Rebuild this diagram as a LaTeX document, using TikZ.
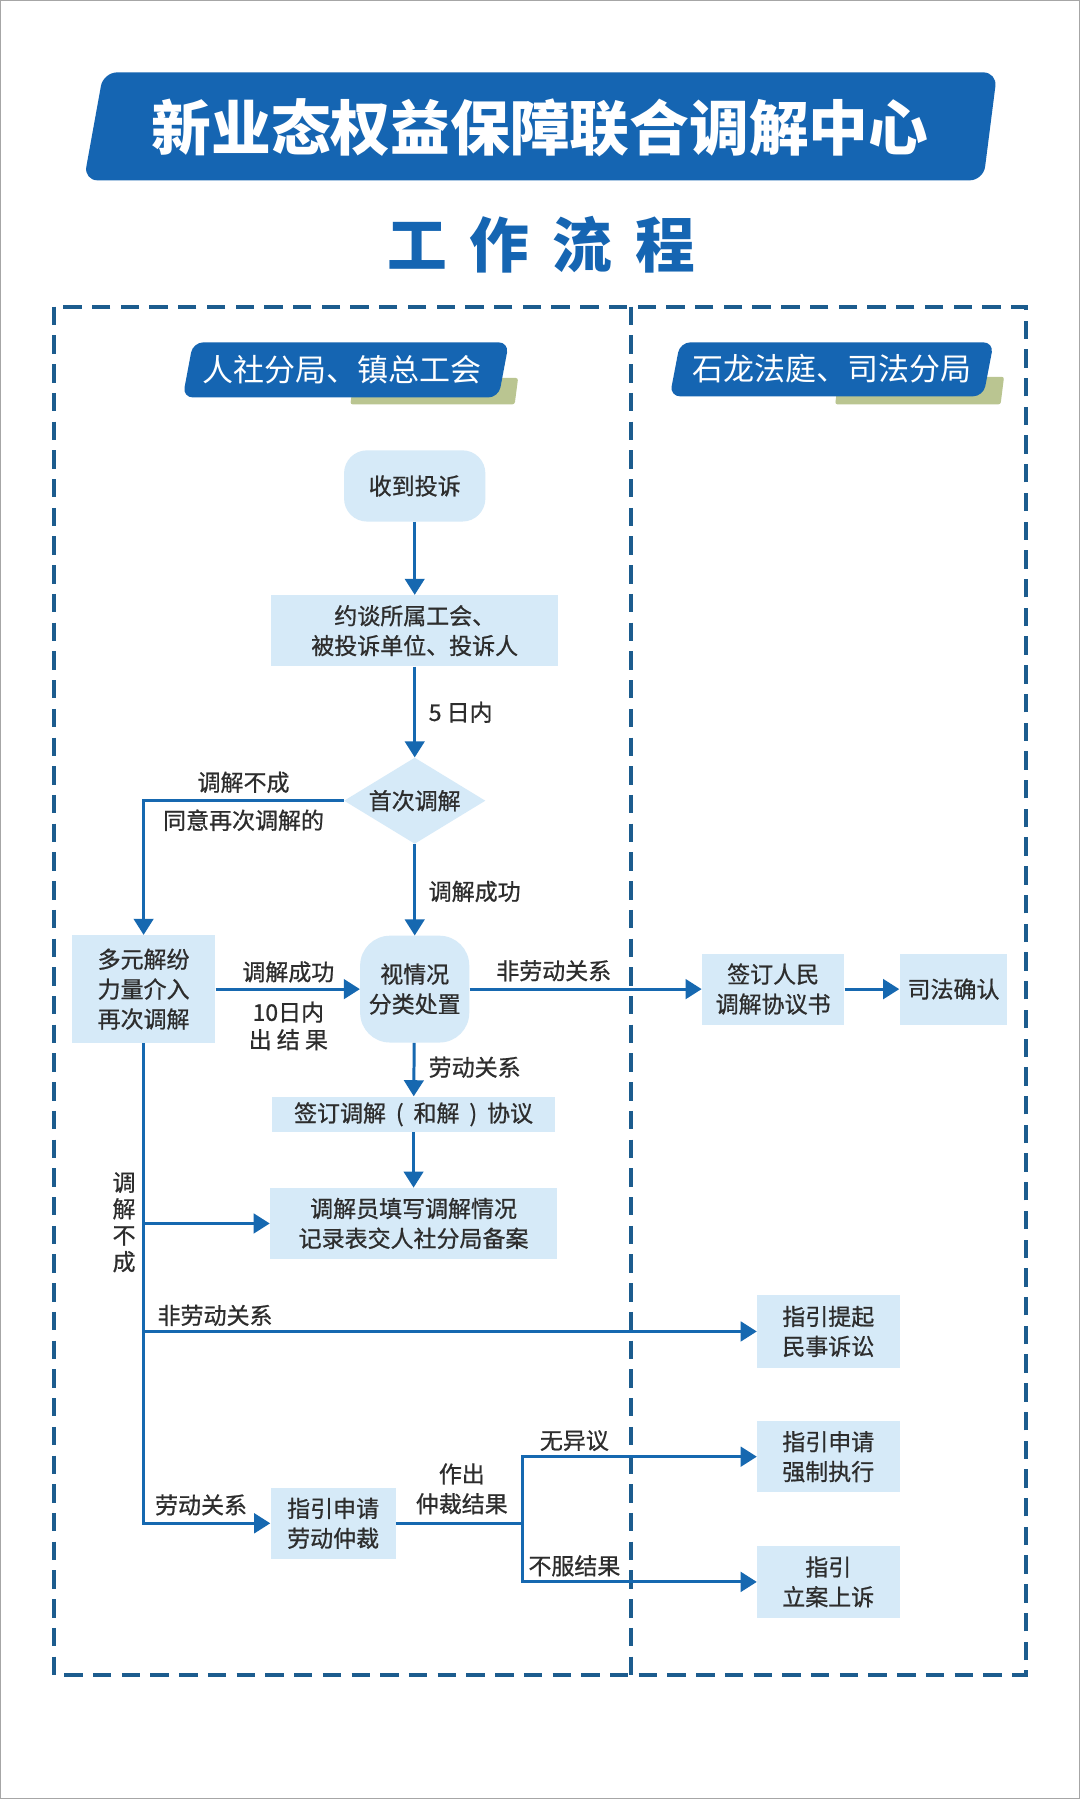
\documentclass[tikz,border=0pt]{standalone}
\usepackage{fontspec}
\setmainfont{Noto Sans CJK SC}
\newfontfamily\medfont{Noto Sans CJK SC}[FakeBold=0.8]
\usetikzlibrary{shapes.geometric,arrows.meta}
\definecolor{lineblue}{RGB}{22,104,176}
\definecolor{dashblue}{RGB}{28,92,142}
\definecolor{bannerblue}{RGB}{21,101,178}
\definecolor{boxfill}{RGB}{214,234,248}
\definecolor{sage}{RGB}{186,197,145}
\definecolor{txt}{RGB}{45,45,45}
\begin{document}
\begin{tikzpicture}[x=1pt,y=-1pt,
  box/.style={fill=boxfill, draw=none, text=txt, font=\medfont\fontsize{20}{26}\selectfont, align=center, inner sep=0pt},
  conn/.style={draw=lineblue, line width=2.6pt},
  arr/.style={conn, -{Triangle[length=14pt,width=17pt]}},
  lbl/.style={text=txt, font=\medfont\fontsize{20}{26}\selectfont, inner sep=0pt, align=center},
  dashline/.style={dashblue, line width=3.5pt, dash pattern=on 16pt off 9pt},
  hdrtext/.style={text=white, font=\fontsize{27}{27}\selectfont, inner sep=0pt},
]
\useasboundingbox (0,0) rectangle (940,1566);
\fill[white] (0,0) rectangle (940,1566);
\draw[gray!70, line width=1pt] (0.5,0.5) rectangle (939.5,1565.5);

% title banner
\fill[bannerblue, rounded corners=12pt] (90,63) -- (868,63) -- (856,157) -- (73,157) -- cycle;
\node[text=white, font=\fontsize{52}{52}\selectfont\bfseries, inner sep=0pt] (title) at (470,111) {新业态权益保障联合调解中心};
\node[text=bannerblue, font=\fontsize{52}{52}\selectfont\bfseries, inner sep=0pt] (subtitle) at (471,213) {工\hspace{20pt}作\hspace{20pt}流\hspace{20pt}程};

% dashed frame
\draw[dashline] (47,267) rectangle (893,1458);
\draw[dashline] (549,267) -- (549,1458);

% section headers
\fill[sage, rounded corners=2pt] (308,329) -- (451,329) -- (448,352) -- (305,352) -- cycle;
\fill[bannerblue, rounded corners=9pt] (168,298) -- (443,298) -- (434,346) -- (159,346) -- cycle;
\node[hdrtext] (hdrL) at (298,322) {人社分局、镇总工会};
\fill[sage, rounded corners=2pt] (730,328) -- (874,328) -- (871,352) -- (727,352) -- cycle;
\fill[bannerblue, rounded corners=9pt] (592,298) -- (865,298) -- (856,345) -- (583,345) -- cycle;
\node[hdrtext] (hdrR) at (724,321) {石龙法庭、司法分局};

% nodes
\node[box, rounded corners=20pt, minimum width=123pt, minimum height=62pt] (recv) at (361,423) {收到投诉};
\node[box, minimum width=250pt, minimum height=62pt] (talk) at (361,549) {约谈所属工会、\\被投诉单位、投诉人};
\node[box, shape=diamond, aspect=1.63, minimum width=123pt, minimum height=75pt] (first) at (361,697) {首次调解};
\node[box, rounded corners=26pt, minimum width=95pt, minimum height=93pt] (situ) at (361,861) {视情况\\分类处置};
\node[box, minimum width=125pt, minimum height=94pt] (multi) at (125,861) {多元解纷\\力量介入\\再次调解};
\node[box, minimum width=124pt, minimum height=62pt] (sign1) at (673,861) {签订人民\\调解协议书};
\node[box, minimum width=94pt, minimum height=62pt] (judic) at (830,861) {司法确认};
\node[box, minimum width=246pt, minimum height=31pt] (agree) at (360,970) {签订调解\makebox[24pt][c]{(}和解\makebox[24pt][c]{)}协议};
\node[box, minimum width=250pt, minimum height=62pt] (record) at (360,1065) {调解员填写调解情况\\记录表交人社分局备案};
\node[box, minimum width=124pt, minimum height=63pt] (civil) at (721,1159) {指引提起\\民事诉讼};
\node[box, minimum width=124pt, minimum height=62pt] (exec) at (721,1268) {指引申请\\强制执行};
\node[box, minimum width=124pt, minimum height=62pt] (appeal) at (721,1377) {指引\\立案上诉};
\node[box, minimum width=109pt, minimum height=62pt] (arb) at (290,1326) {指引申请\\劳动仲裁};
\coordinate (split) at (455,1326);

% connectors
\draw[arr] (recv) -- (talk);
\draw[arr] (talk) -- (first);
\draw[arr] (first) -- (situ);
\draw[arr] (first.west) -| (multi.north);
\draw[arr] (multi) -- (situ);
\draw[arr] (situ) -- (sign1);
\draw[arr] (sign1) -- (judic);
\draw[arr] (situ) -- (agree);
\draw[arr] (agree) -- (record);
\draw[arr] (multi.south) |- (arb);
\draw[arr] (multi.south |- record.west) -- (record.west);
\draw[arr] (multi.south |- civil.west) -- (civil.west);
\draw[conn] (arb) -- (split);
\draw[arr] (split) |- (exec.west);
\draw[arr] (split) |- (appeal.west);

% labels
\node[lbl, anchor=west] (l5) at (373,620) {5 日内};
\node[lbl] (lfail) at (212,681) {调解不成};
\node[lbl] (lagain) at (212,714) {同意再次调解的};
\node[lbl, anchor=west] (lsucc1) at (373,776) {调解成功};
\node[lbl] (lsucc2) at (251,846) {调解成功};
\node[lbl, font=\medfont\fontsize{20}{24}\selectfont] (l10) at (251,893) {10日内\\出 结 果};
\node[lbl] (lnonlab1) at (482,845) {非劳动关系};
\node[lbl, anchor=west] (llab1) at (373,929) {劳动关系};
\node[lbl, font=\medfont\fontsize{20}{23}\selectfont] (lfail2) at (108,1064) {调\\解\\不\\成};
\node[lbl, anchor=west] (lnonlab2) at (137,1145) {非劳动关系};
\node[lbl] (llab2) at (175,1310) {劳动关系};
\node[lbl] (lmake) at (402,1296) {作出\\仲裁结果};
\node[lbl] (lnoobj) at (500,1254) {无异议};
\node[lbl] (lnosat) at (500,1363) {不服结果};
\end{tikzpicture}
\end{document}
